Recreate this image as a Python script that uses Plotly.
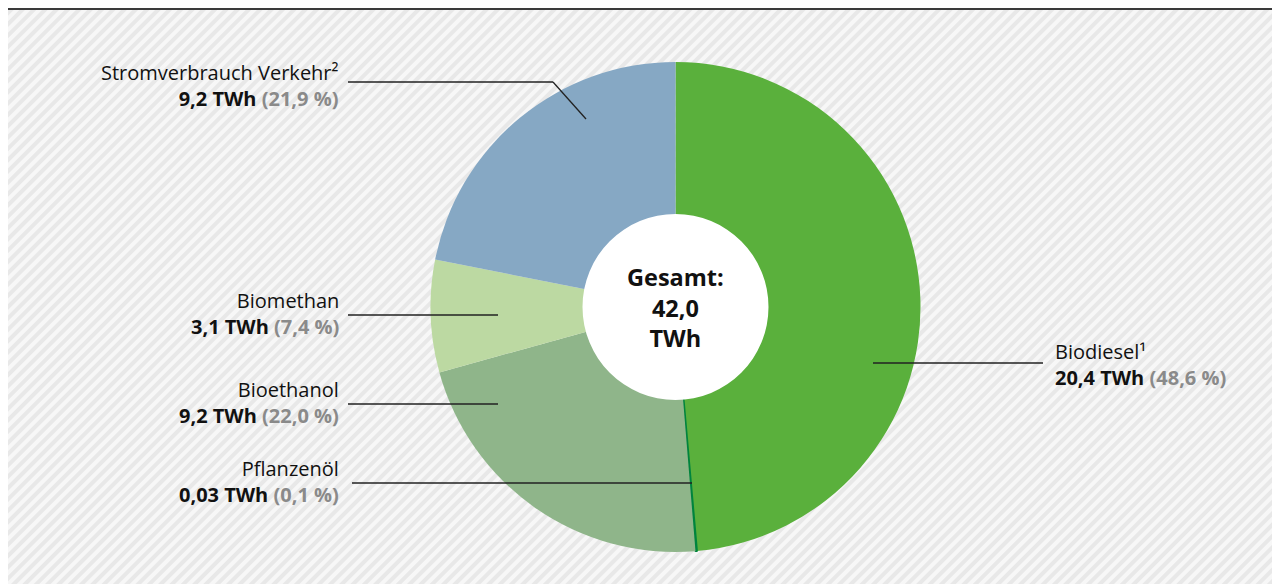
import base64
import plotly.graph_objects as go

W, H = 1280, 584
OFF = 8  # the page body adds an 8px offset

# data
labels = ["Biodiesel¹", "Pflanzenöl", "Bioethanol", "Biomethan", "Stromverbrauch Verkehr²"]
twh = ["20,4", "0,03", "9,2", "3,1", "9,2"]
pct = [48.6, 0.1, 22.0, 7.4, 21.9]
pct_text = ["48,6", "0,1", "22,0", "7,4", "21,9"]
colors = ["#5ab03c", "#00843d", "#8fb58a", "#bcd9a2", "#86a8c4"]
total = "42,0"

def px(x):
    return (x - OFF) / W

def py(y):
    return 1 - (y - OFF) / H

# hatched background as an svg image
bw, bh = W, H
svg = (
    f'<svg xmlns="http://www.w3.org/2000/svg" width="{bw}" height="{bh}" viewBox="0 0 {bw} {bh}">'
    '<defs><pattern id="p" width="8" height="8" patternUnits="userSpaceOnUse" patternTransform="rotate(45)">'
    '<rect width="8" height="8" fill="#f7f7f7"/><rect width="4" height="8" fill="#e8e8e8"/></pattern></defs>'
    f'<rect width="{bw}" height="{bh}" fill="url(#p)"/></svg>'
)
bg_src = "data:image/svg+xml;base64," + base64.b64encode(svg.encode()).decode()

cx, cy, r, r_hole = 675.5, 307, 245, 93

fig = go.Figure()
fig.add_trace(go.Pie(
    labels=labels, values=pct, sort=False, direction="clockwise", rotation=0,
    marker=dict(colors=colors, line=dict(width=[0, 1.8, 0, 0, 0], color=colors)),
    textinfo="none", hoverinfo="label+percent", showlegend=False,
    domain=dict(x=[px(cx - r), px(cx + r)], y=[py(cy + r), py(cy - r)]),
))

shapes = [
    dict(type="line", xref="paper", yref="paper", x0=0, x1=1, y0=py(9), y1=py(9),
         line=dict(color="#3a3a3a", width=2)),
    dict(type="circle", xref="paper", yref="paper", layer="above",
         x0=px(cx - r_hole), x1=px(cx + r_hole), y0=py(cy + r_hole), y1=py(cy - r_hole),
         fillcolor="white", line=dict(width=0)),
]

# leader lines (pixel positions)
leaders = [
    [(873, 363), (1043, 363)],
    [(352, 483), (692, 483)],
    [(348, 404), (498, 404)],
    [(348, 315), (498, 315)],
    [(348, 82), (553, 82), (586, 119)],
]
for pts in leaders:
    for (x0, y0), (x1, y1) in zip(pts[:-1], pts[1:]):
        shapes.append(dict(type="line", xref="paper", yref="paper", layer="above",
                           x0=px(x0), y0=py(y0), x1=px(x1), y1=py(y1),
                           line=dict(color="#222222", width=1.3)))

# label anchor positions (pixel): x, y of text center, side
label_pos = [(1053, 365, "left"), (341, 481, "right"), (341, 402, "right"),
             (341, 313, "right"), (341, 85, "right")]

annotations = []
for lab, t, p, (x, y, side) in zip(labels, twh, pct_text, label_pos):
    txt = f"{lab}<br><b>{t} TWh</b> <b><span style='color:#8a8a8a'>({p} %)</span></b>"
    annotations.append(dict(
        text=txt, xref="paper", yref="paper", x=px(x), y=py(y), showarrow=False,
        xanchor=side, yanchor="middle", align=side,
        font=dict(family="Open Sans", size=20, color="#111111"),
    ))

annotations.append(dict(
    text=f"<b>Gesamt:<br>{total}<br>TWh</b>", xref="paper", yref="paper",
    x=px(cx), y=py(cy), showarrow=False, xanchor="center", yanchor="middle",
    align="center", font=dict(family="Open Sans", size=23.5, color="#111111"),
))

fig.update_layout(
    width=W, height=H, margin=dict(l=0, r=0, t=0, b=0),
    paper_bgcolor="white", plot_bgcolor="white",
    shapes=shapes, annotations=annotations,
    images=[dict(source=bg_src, xref="paper", yref="paper", x=0, y=py(10),
                 sizex=1, sizey=1, xanchor="left", yanchor="top",
                 sizing="stretch", layer="below")],
)

fig.write_html("out.html")
